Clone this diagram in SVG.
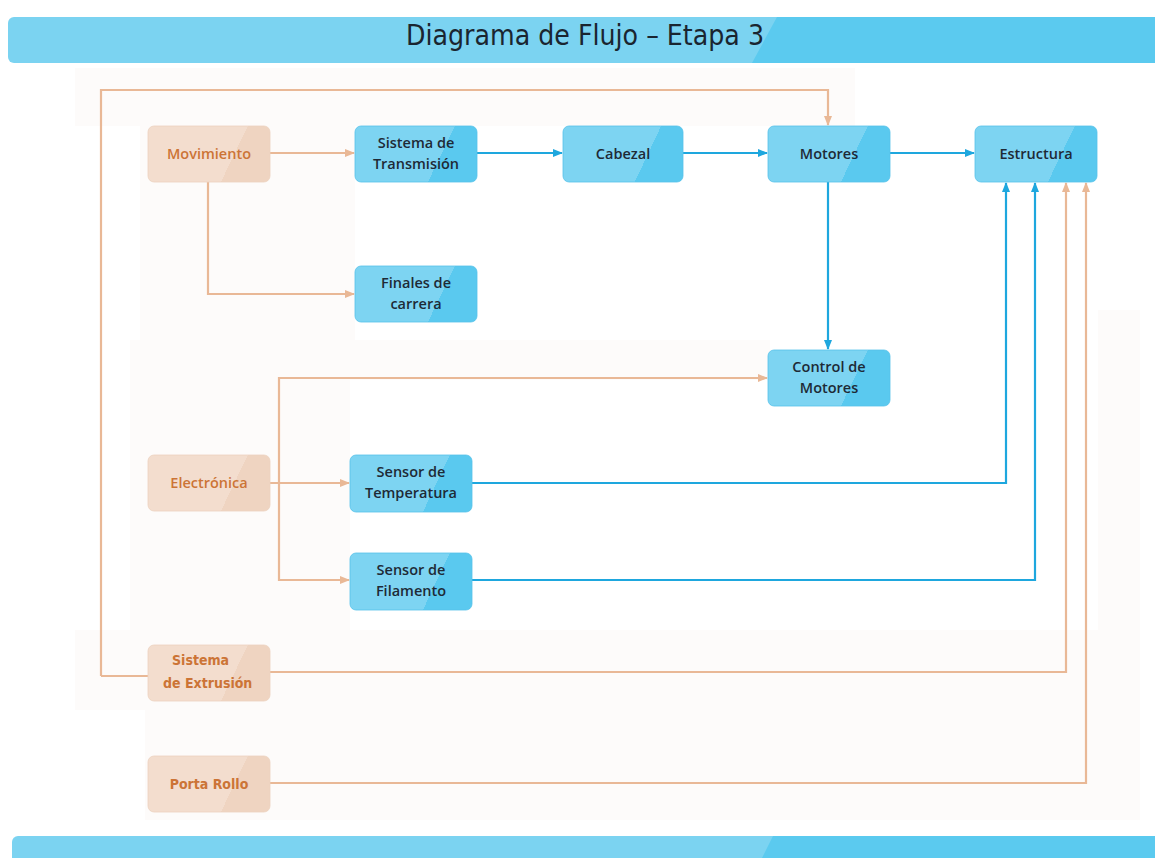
<svg xmlns="http://www.w3.org/2000/svg" width="1155" height="858" viewBox="0 0 1155 858">
<defs>
<style>
.bn{stroke:#55c2ea;stroke-width:0.8}
.on{stroke:#ecd2bf;stroke-width:0.8}
.bt{font-family:"Open Sans","Liberation Sans",sans-serif;font-size:14.5px;font-weight:600;fill:#1e2a36;text-anchor:middle}
.ot{font-family:"Open Sans","Liberation Sans",sans-serif;font-size:14.5px;font-weight:600;fill:#cc7436;text-anchor:middle}
.oc{font-family:"Liberation Sans Narrow","DejaVu Sans",sans-serif;font-stretch:condensed;font-size:14px;font-weight:600;fill:#cc7436}
.lb{fill:none;stroke:#1ea7de;stroke-width:2.2}
.lo{fill:none;stroke:#e9b896;stroke-width:2.2}
.bg{fill:#fdfbfa}
</style>
<linearGradient id="gb" x1="0" y1="0" x2="1" y2="0.22">
<stop offset="0" stop-color="#7dd4f2"/><stop offset="0.78" stop-color="#7dd4f2"/><stop offset="0.78" stop-color="#5ac9ef"/><stop offset="1" stop-color="#5ac9ef"/>
</linearGradient>
<linearGradient id="go" x1="0" y1="0" x2="1" y2="0.22">
<stop offset="0" stop-color="#f3ddce"/><stop offset="0.78" stop-color="#f3ddce"/><stop offset="0.78" stop-color="#efd4c1"/><stop offset="1" stop-color="#efd4c1"/>
</linearGradient>
<marker id="ab" markerUnits="userSpaceOnUse" markerWidth="10" markerHeight="10" refX="9" refY="5" orient="auto">
<path d="M0,1 L10,5 L0,9 Z" fill="#1ea7de"/>
</marker>
<marker id="ao" markerUnits="userSpaceOnUse" markerWidth="10" markerHeight="10" refX="9" refY="5" orient="auto">
<path d="M0,1 L10,5 L0,9 Z" fill="#e9b896"/>
</marker>
</defs>
<rect width="1155" height="858" fill="#ffffff"/>
<g id="background">
<rect class="bg" x="75" y="68" width="780" height="58"/>
<rect class="bg" x="140" y="126" width="215" height="220"/>
<rect class="bg" x="130" y="340" width="640" height="40"/>
<rect class="bg" x="130" y="380" width="220" height="250"/>
<rect class="bg" x="1098" y="310" width="42" height="320"/>
<rect class="bg" x="75" y="630" width="1065" height="80"/>
<rect class="bg" x="145" y="710" width="995" height="110"/>
</g>
<g id="title">
<rect x="8" y="17" width="1160" height="46" rx="6" fill="#7bd3f1"/>
<path d="M777,17 L1168,17 L1168,63 L752,63 Z" fill="#5bcaef"/>
<text x="585" y="45" font-family="'DejaVu Sans',sans-serif" font-size="28" fill="#1a2530" text-anchor="middle" textLength="358" lengthAdjust="spacingAndGlyphs">Diagrama de Flujo – Etapa 3</text>
</g>
<g id="footer">
<rect x="12" y="836" width="1160" height="40" rx="6" fill="#7bd3f1"/>
<path d="M773,836 L1168,836 L1168,858 L762,858 Z" fill="#5bcaef"/>
</g>
<g id="connectors">
<path class="lo" d="M101,676 L148,676 M101,676 L101,90 L828,90 L828,125" marker-end="url(#ao)"/>
<path class="lo" d="M270,153 L354,153" marker-end="url(#ao)"/>
<path class="lo" d="M208,182 L208,294 L354,294" marker-end="url(#ao)"/>
<path class="lo" d="M270,483 L349,483" marker-end="url(#ao)"/>
<path class="lo" d="M279,483 L279,378 L767,378" marker-end="url(#ao)"/>
<path class="lo" d="M279,483 L279,580 L349,580" marker-end="url(#ao)"/>
<path class="lo" d="M270,672 L1066,672 L1066,183" marker-end="url(#ao)"/>
<path class="lo" d="M270,783 L1086,783 L1086,183" marker-end="url(#ao)"/>
<path class="lb" d="M477,153 L562,153" marker-end="url(#ab)"/>
<path class="lb" d="M683,153 L767,153" marker-end="url(#ab)"/>
<path class="lb" d="M890,153 L974,153" marker-end="url(#ab)"/>
<path class="lb" d="M828,182 L828,349" marker-end="url(#ab)"/>
<path class="lb" d="M472,483 L1006,483 L1006,183" marker-end="url(#ab)"/>
<path class="lb" d="M472,580 L1035,580 L1035,183" marker-end="url(#ab)"/>
</g>
<g id="movimiento">
<rect class="on" x="148" y="126" width="122" height="56" rx="6" fill="url(#go)"/>
<text class="ot" x="209" y="159">Movimiento</text>
</g>
<g id="sistema-transmision">
<rect class="bn" x="355" y="126" width="122" height="56" rx="6" fill="url(#gb)"/>
<text class="bt" x="416" y="148">Sistema de</text>
<text class="bt" x="416" y="169">Transmisión</text>
</g>
<g id="cabezal">
<rect class="bn" x="563" y="126" width="120" height="56" rx="6" fill="url(#gb)"/>
<text class="bt" x="623" y="159">Cabezal</text>
</g>
<g id="motores">
<rect class="bn" x="768" y="126" width="122" height="56" rx="6" fill="url(#gb)"/>
<text class="bt" x="829" y="159">Motores</text>
</g>
<g id="estructura">
<rect class="bn" x="975" y="126" width="122" height="56" rx="6" fill="url(#gb)"/>
<text class="bt" x="1036" y="159">Estructura</text>
</g>
<g id="finales-carrera">
<rect class="bn" x="355" y="266" width="122" height="56" rx="6" fill="url(#gb)"/>
<text class="bt" x="416" y="288">Finales de</text>
<text class="bt" x="416" y="309">carrera</text>
</g>
<g id="control-motores">
<rect class="bn" x="768" y="350" width="122" height="56" rx="6" fill="url(#gb)"/>
<text class="bt" x="829" y="372">Control de</text>
<text class="bt" x="829" y="393">Motores</text>
</g>
<g id="electronica">
<rect class="on" x="148" y="455" width="122" height="56" rx="6" fill="url(#go)"/>
<text class="ot" x="209" y="488">Electrónica</text>
</g>
<g id="sensor-temperatura">
<rect class="bn" x="350" y="455" width="122" height="57" rx="6" fill="url(#gb)"/>
<text class="bt" x="411" y="477">Sensor de</text>
<text class="bt" x="411" y="498">Temperatura</text>
</g>
<g id="sensor-filamento">
<rect class="bn" x="350" y="553" width="122" height="57" rx="6" fill="url(#gb)"/>
<text class="bt" x="411" y="575">Sensor de</text>
<text class="bt" x="411" y="596">Filamento</text>
</g>
<g id="sistema-extrusion">
<rect class="on" x="148" y="645" width="122" height="56" rx="6" fill="url(#go)"/>
<text class="oc" x="172" y="665">Sistema</text>
<text class="oc" x="163" y="688">de Extrusión</text>
</g>
<g id="porta-rollo">
<rect class="on" x="148" y="756" width="122" height="56" rx="6" fill="url(#go)"/>
<text class="oc" x="209" y="789" text-anchor="middle">Porta Rollo</text>
</g>
</svg>
